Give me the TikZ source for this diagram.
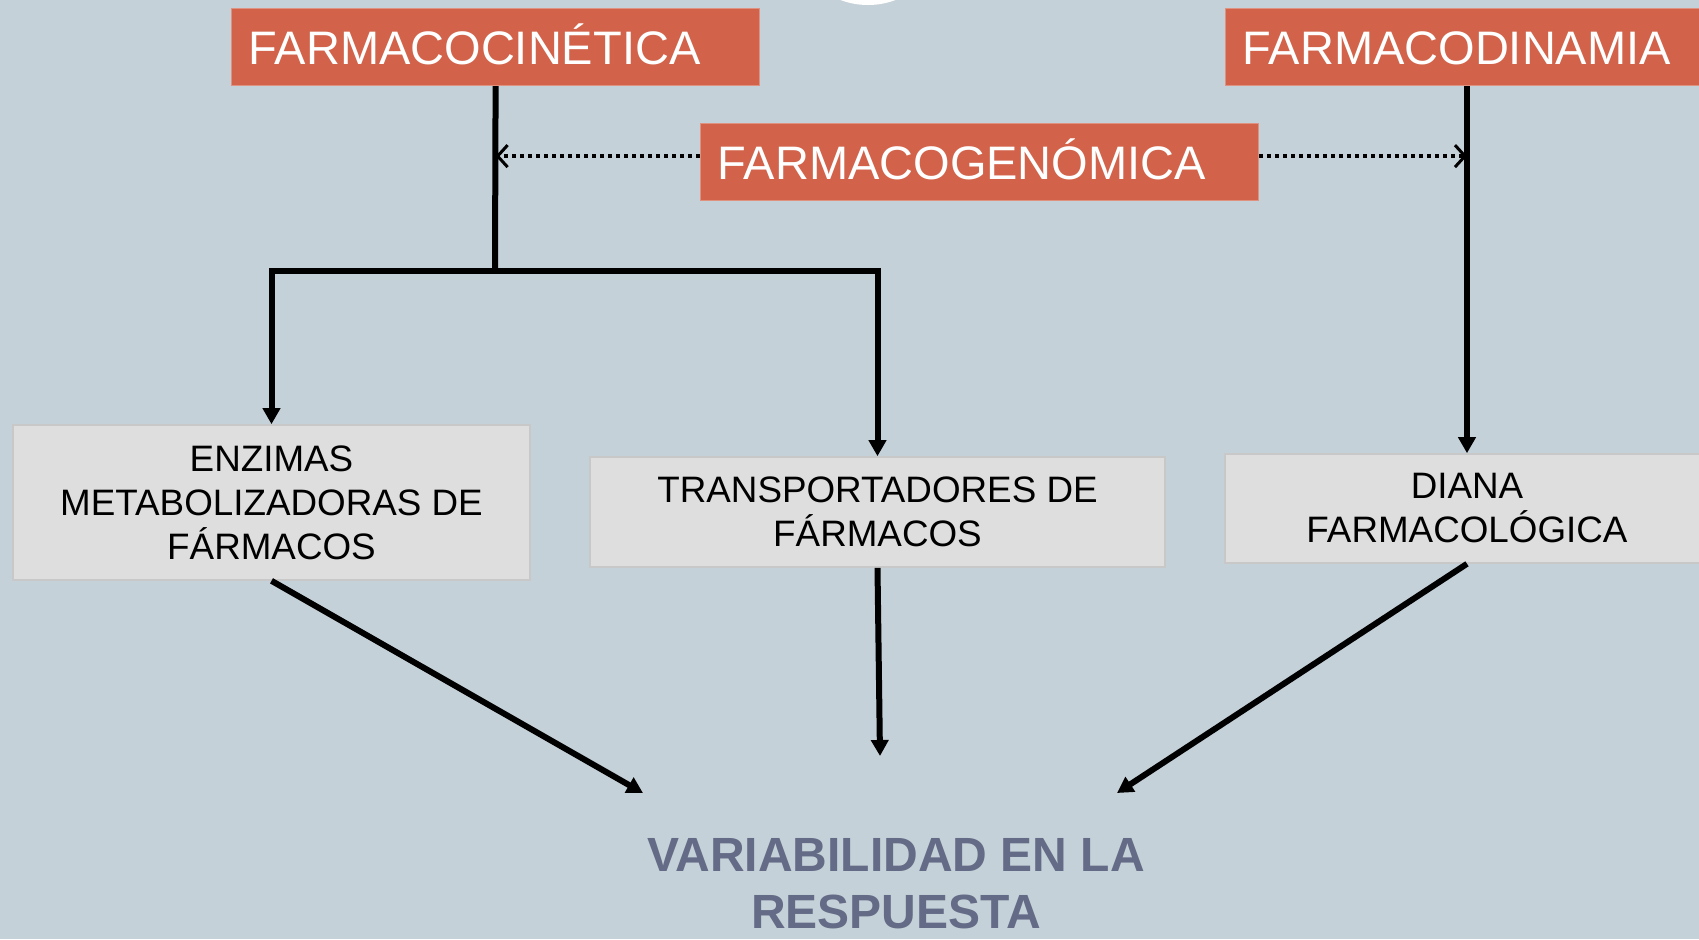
\documentclass[tikz,border=0pt]{standalone}
\usepackage{fontspec}
\setmainfont{Liberation Sans}
\usetikzlibrary{arrows.meta}

\definecolor{fondo}{HTML}{C5D1D8}
\definecolor{naranja}{HTML}{D2634A}
\definecolor{cajagris}{HTML}{DEDEDE}
\definecolor{bordegris}{HTML}{C8C8C8}
\definecolor{textoazul}{HTML}{646B86}

\tikzset{
	titulo/.style={fill=naranja, draw=naranja!70!white, line width=0.6pt, text=white,
		font=\fontsize{23.5}{28}\selectfont, inner xsep=8.5pt, minimum height=38.5pt,
		execute at begin node={\rule[-0.2em]{0pt}{1.12em}},
		text width=#1, align=left, anchor=north west},
	caja/.style={fill=cajagris, draw=bordegris, line width=0.8pt,
		font=\fontsize{18.4}{22}\selectfont, align=center, inner sep=0pt},
	linea/.style={line width=3pt},
	flecha/.style={line width=3pt, -{Triangle[length=8pt,width=8.5pt]}},
	punteado/.style={line width=2pt, dash pattern=on 2pt off 2pt,
		-{Straight Barb[length=5pt,width=11pt,line width=1.5pt]}}
}

\begin{document}
\begin{tikzpicture}[x=0.5pt, y=-0.5pt]
		\useasboundingbox (0,0) rectangle (1699,939);
		\fill[fondo] (0,0) rectangle (1699,939);
		\fill[white] (868,-73) circle[radius=39pt];
		% cabeceras
		\node[titulo=247pt] (cin) at (231,8) {FARMACOCINÉTICA};
		\node[titulo=247pt] (din) at (1225,8) {FARMACODINAMIA};
		\node[titulo=262pt] (gen) at (700,123) {FARMACOGENÓMICA};
		% cajas
		\node[caja, minimum width=258.5pt, minimum height=77.5pt] (enz) at (271.5,502.5)
			{ENZIMAS\\METABOLIZADORAS DE\\FÁRMACOS};
		\node[caja, minimum width=287.5pt, minimum height=55pt] (tra) at (877.5,512)
			{TRANSPORTADORES DE\\FÁRMACOS};
		\node[caja, minimum width=242pt, minimum height=54.5pt] (dia) at (1467,508.5)
			{DIANA\\FARMACOLÓGICA};
		\node[text=textoazul, font=\fontsize{24}{28.5}\selectfont\bfseries, align=center,
			inner sep=0pt, anchor=base] (var) at (896,928) {VARIABILIDAD EN LA\\RESPUESTA};
		\coordinate (ramal) at (495,271);
		\coordinate (fin1) at (643,793);
		\coordinate (fin2) at (880,756);
		\coordinate (fin3) at (1117,793);
		% conexiones
		\draw[linea] (cin.south) -- (ramal);
		\draw[flecha] (ramal) -| (enz.north);
		\draw[flecha] (ramal) -| (tra.north);
		\draw[flecha] (din.south -| dia.north) -- (dia.north);
		\draw[punteado] ([yshift=3pt]gen.west) -- ([yshift=3pt]gen.west -| cin.south);
		\draw[punteado] ([yshift=3pt]gen.east) -- ([yshift=3pt]gen.east -| dia.north);
		\draw[flecha] (enz.south) -- (fin1);
		\draw[flecha] (tra.south) -- (fin2);
		\draw[flecha] (dia.south) -- (fin3);
	\end{tikzpicture}
\end{document}
